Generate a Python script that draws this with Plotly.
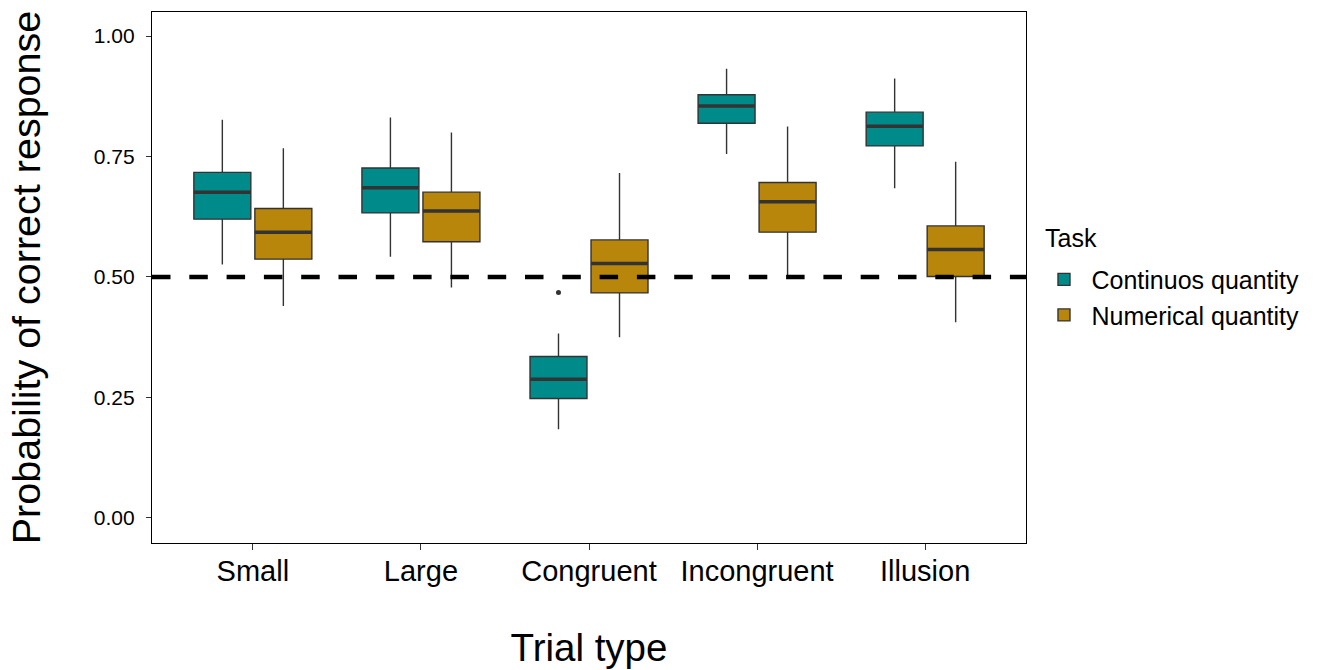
import plotly.graph_objects as go

# Trial types shown along the x axis
trial_types = ["Small", "Large", "Congruent", "Incongruent", "Illusion"]

# Box summaries per task (lower whisker, Q1, median, Q3, upper whisker)
cont_low = [0.526, 0.542, 0.184, 0.755, 0.684]
cont_q1 = [0.620, 0.633, 0.248, 0.819, 0.772]
cont_med = [0.676, 0.685, 0.288, 0.855, 0.813]
cont_q3 = [0.717, 0.726, 0.335, 0.878, 0.842]
cont_high = [0.826, 0.831, 0.383, 0.932, 0.912]

num_low = [0.440, 0.478, 0.375, 0.501, 0.406]
num_q1 = [0.537, 0.573, 0.467, 0.593, 0.501]
num_med = [0.593, 0.637, 0.528, 0.656, 0.557]
num_q3 = [0.642, 0.676, 0.577, 0.696, 0.606]
num_high = [0.767, 0.800, 0.716, 0.812, 0.739]

# Outlying observation (Continuos quantity, Congruent)
outlier_cat = ["Congruent"]
outlier_val = [0.468]

chance_level = 0.5

TEAL = "#008B8B"
GOLD = "#B8860B"
EDGE = "#333333"
FONT = "Liberation Sans, Arial, sans-serif"

DODGE = 0.1815
BOX_W = 0.339

base = list(range(len(trial_types)))
cont_x = [i - DODGE for i in base]
num_x = [i + DODGE for i in base]

fig = go.Figure()


def add_box(name, xs, low, q1, med, q3, high, color):
    fig.add_trace(go.Box(
        name=name, x=xs, q1=q1, median=med, q3=q3,
        lowerfence=low, upperfence=high,
        width=BOX_W, whiskerwidth=0,
        fillcolor=color, line=dict(color=EDGE, width=1.4),
        boxpoints=False, hoverinfo="skip",
    ))


add_box("Continuos quantity", cont_x, cont_low, cont_q1, cont_med, cont_q3, cont_high, TEAL)
add_box("Numerical quantity", num_x, num_low, num_q1, num_med, num_q3, num_high, GOLD)

# Thicker median bars drawn over the boxes
mx, my = [], []
for xs, meds in ((cont_x, cont_med), (num_x, num_med)):
    for xc, m in zip(xs, meds):
        mx += [xc - BOX_W / 2, xc + BOX_W / 2, None]
        my += [m, m, None]
fig.add_trace(go.Scatter(
    x=mx, y=my, mode="lines", line=dict(color=EDGE, width=3.5),
    showlegend=False, hoverinfo="skip",
))

# Outlier point
fig.add_trace(go.Scatter(
    x=[trial_types.index(c) - DODGE for c in outlier_cat], y=outlier_val,
    mode="markers", marker=dict(color=EDGE, size=5),
    showlegend=False, hoverinfo="skip",
))

# Chance level reference line
fig.add_shape(
    type="line", xref="paper", x0=0, x1=1, yref="y",
    y0=chance_level, y1=chance_level,
    line=dict(color="black", width=4.5, dash="18.5px,18.8px"), layer="above",
)

# Legend heading
fig.add_annotation(
    text="Task", xref="paper", yref="paper", x=1.019, y=0.574,
    xanchor="left", yanchor="middle", showarrow=False,
    font=dict(size=25, family=FONT, color="black"),
)

fig.update_layout(
    width=1319, height=670,
    margin=dict(l=152, r=293, t=12, b=127, autoexpand=False),
    paper_bgcolor="white", plot_bgcolor="white",
    boxmode="overlay",
    font=dict(family=FONT, color="black"),
    showlegend=True,
    legend=dict(
        font=dict(size=25, family=FONT, color="black"),
        x=1.012, xanchor="left", y=0.463, yanchor="middle",
        itemwidth=45, tracegroupgap=0,
        bgcolor="rgba(0,0,0,0)",
    ),
    xaxis=dict(
        range=[-0.6, 4.6], tickmode="array", tickvals=base, ticktext=trial_types,
        showgrid=False, zeroline=False, automargin=False,
        showline=True, mirror=True, linecolor="black", linewidth=1.3,
        ticks="outside", ticklen=6, tickwidth=1.3, tickcolor=EDGE,
        ticklabelstandoff=-4,
        tickfont=dict(size=29, family=FONT, color="black"),
        title=dict(text="Trial type", font=dict(size=38.5, family=FONT, color="black"), standoff=48),
    ),
    yaxis=dict(
        range=[-0.0519, 1.0498], tickmode="array",
        tickvals=[0, 0.25, 0.5, 0.75, 1.0],
        ticktext=["0.00", "0.25", "0.50", "0.75", "1.00"],
        showgrid=False, zeroline=False, automargin=False,
        showline=True, mirror=True, linecolor="black", linewidth=1.3,
        ticks="outside", ticklen=5, tickwidth=1.3, tickcolor=EDGE,
        ticklabelstandoff=7,
        tickfont=dict(size=21, family=FONT, color="black"),
        title=dict(text="Probability of correct response", font=dict(size=39.5, family=FONT, color="black"), standoff=40),
    ),
)

fig.write_html("out.html")
